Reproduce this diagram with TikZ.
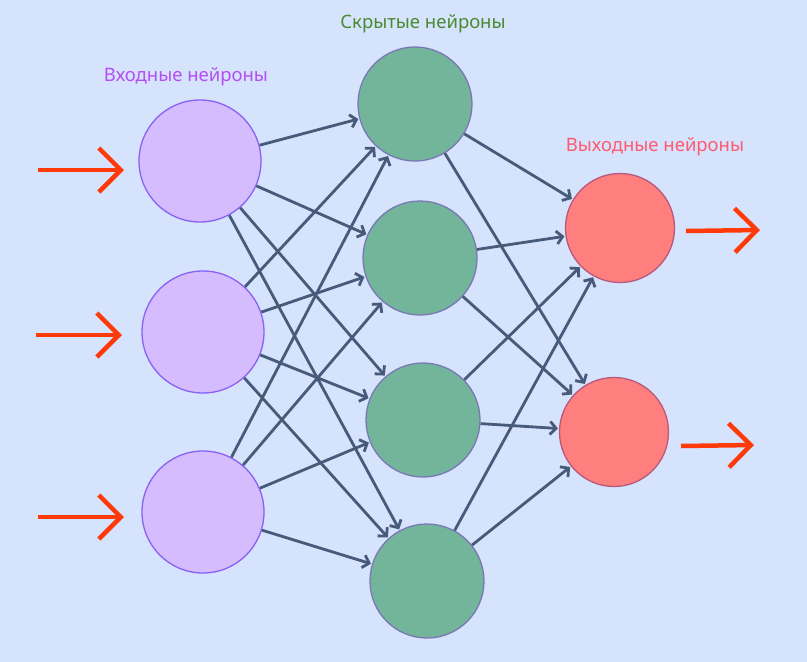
\documentclass[tikz,border=0pt]{standalone}
\usepackage{fontspec}
\setmainfont{Noto Sans}
\usetikzlibrary{arrows.meta}
\definecolor{bgblue}{HTML}{D5E3FC}
\definecolor{infill}{HTML}{D5BCFE}
\definecolor{inborder}{HTML}{8A60F5}
\definecolor{hidfill}{HTML}{72B59B}
\definecolor{hidborder}{HTML}{7A78B4}
\definecolor{outfill}{HTML}{FF7F7F}
\definecolor{outborder}{HTML}{B8587A}
\definecolor{edgecol}{HTML}{475A7A}
\definecolor{signal}{HTML}{FF3A0A}
\definecolor{inlabel}{HTML}{B44DF5}
\definecolor{hidlabel}{HTML}{4A8A30}
\definecolor{outlabel}{HTML}{FF5A6E}

\begin{document}
\begin{tikzpicture}[x=1pt, y=-1pt,
    neuron/.style={circle, draw, line width=1.3pt, inner sep=0pt},
    inneuron/.style={neuron, fill=infill, draw=inborder, minimum size=122pt},
    hidneuron/.style={neuron, fill=hidfill, draw=hidborder, minimum size=114pt},
    outneuron/.style={neuron, fill=outfill, draw=outborder, minimum size=109pt},
    link/.style={draw=edgecol, line width=2.8pt, -{Straight Barb[length=6pt,width=13pt]}, shorten >=1pt},
    signalarrow/.style={draw=signal, line width=4.5pt, -{Straight Barb[length=22pt,width=44pt]}},
    caption/.style={font=\fontsize{18.5}{22}\selectfont}]
  \fill[bgblue] (0,0) rectangle (807,662);
  \useasboundingbox (0,0) rectangle (807,662);
  % neurons
  \node[inneuron] (i1) at (200,161) {};
  \node[inneuron] (i2) at (203,332) {};
  \node[inneuron] (i3) at (203,512) {};
  \node[hidneuron] (h1) at (415,104) {};
  \node[hidneuron] (h2) at (420,258) {};
  \node[hidneuron] (h3) at (423,420) {};
  \node[hidneuron] (h4) at (427,581) {};
  \node[outneuron] (o1) at (620,228) {};
  \node[outneuron] (o2) at (614,432) {};
  % connections
  \foreach \i in {1,2,3}
    \foreach \h in {1,2,3,4}
      \draw[link] (i\i) -- (h\h);
  \foreach \h in {1,2,3,4}
    \foreach \o in {1,2}
      \draw[link] (h\h) -- (o\o);
  % signals in and out
  \coordinate (s1) at (38,170);
  \coordinate (s2) at (36,335);
  \coordinate (s3) at (38,517);
  \coordinate (t1) at (686,231);
  \coordinate (t2) at (681,446);
  \draw[signalarrow] (s1) -- ++(86,0);
  \draw[signalarrow] (s2) -- ++(86,0);
  \draw[signalarrow] (s3) -- ++(86,0);
  \draw[signalarrow] (t1) -- ++(74,-1);
  \draw[signalarrow] (t2) -- ++(73,-1);
  % labels
  \node[caption, text=inlabel] (linput) at (186,77) {Входные нейроны};
  \node[caption, text=hidlabel] (lhidden) at (423,24) {Скрытые нейроны};
  \node[caption, text=outlabel] (loutput) at (655,147) {Выходные нейроны};
\end{tikzpicture}
\end{document}
